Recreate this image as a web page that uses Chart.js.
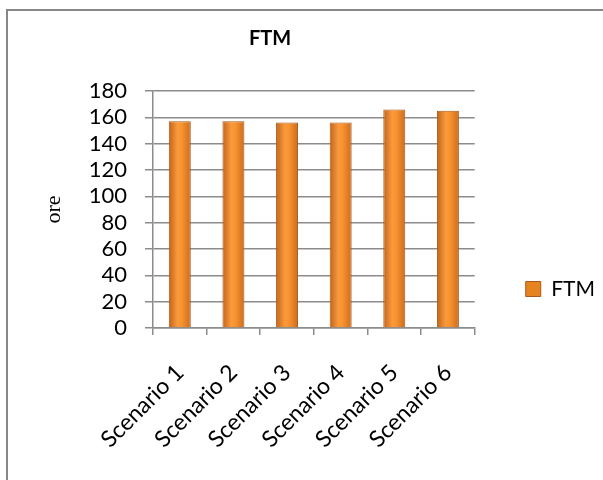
<!DOCTYPE html>
<html lang="it">
<head>
    <meta charset="UTF-8">
    <title>FTM</title>
    <script src="https://cdn.jsdelivr.net/npm/chart.js"></script>
    <style>
        html, body {
            margin: 0;
            padding: 0;
            width: 603px;
            height: 480px;
            overflow: hidden;
            background: #fff;
        }
        /* chart canvas is wider than the window so the title sits where Excel put it */
        #wrap {
            position: absolute;
            left: -65px;
            top: 0;
            width: 670px;
            height: 480px;
        }
        /* Excel chart frame: only top and left edges are visible */
        .frame {
            position: absolute;
            left: 6px;
            top: 9px;
            width: 700px;
            height: 600px;
            border-top: 2px solid #878787;
            border-left: 2px solid #878787;
            pointer-events: none;
        }
    </style>
</head>
<body>
    <div id="wrap"><canvas id="ftmChart"></canvas></div>
    <div class="frame"></div>
    <script>
        const categories = ['Scenario 1', 'Scenario 2', 'Scenario 3', 'Scenario 4', 'Scenario 5', 'Scenario 6'];
        const ftmValues = [157, 157, 156, 156, 166, 165];
        const seriesName = 'FTM';
        const yTicks = [0, 20, 40, 60, 80, 100, 120, 140, 160, 180];

        const barPct = 0.41;

        // horizontal shading like the Excel bevelled bar
        function barFill(ctx) {
            const chart = ctx.chart;
            const xs = chart.scales.x;
            if (!xs || !chart.chartArea) return '#F39130';
            const cx = xs.getPixelForTick(ctx.dataIndex);
            const half = chart.chartArea.width / categories.length * barPct / 2;
            const g = chart.ctx.createLinearGradient(cx - half, 0, cx + half, 0);
            g.addColorStop(0, '#C2631A');
            g.addColorStop(0.4, '#FA9A3C');
            g.addColorStop(0.6, '#F8922F');
            g.addColorStop(1, '#CB6C1E');
            return g;
        }

        new Chart(document.getElementById('ftmChart'), {
            type: 'bar',
            data: {
                labels: categories,
                datasets: [{
                    label: seriesName,
                    data: ftmValues,
                    backgroundColor: barFill,
                    borderColor: '#A9591A',
                    borderWidth: 1,
                    barPercentage: barPct,
                    categoryPercentage: 1
                }]
            },
            options: {
                responsive: true,
                maintainAspectRatio: false,
                animation: false,
                layout: { padding: 0 },
                plugins: {
                    title: {
                        display: true,
                        text: 'FTM',
                        color: '#000',
                        font: { family: 'Lato', size: 20, weight: 'bold' },
                        padding: { top: 27, bottom: 40 }
                    },
                    legend: {
                        position: 'right',
                        align: 'center',
                        title: { display: true, text: '', font: { size: 10 }, padding: { top: 86, bottom: 0 } },
                        labels: {
                            color: '#000',
                            font: { family: 'Lato', size: 21 },
                            boxWidth: 15,
                            boxHeight: 15,
                            padding: 51,
                            generateLabels(chart) {
                                const items = Chart.defaults.plugins.legend.labels.generateLabels(chart);
                                items.forEach(it => {
                                    it.fillStyle = '#E5831F';
                                    it.strokeStyle = '#A9591A';
                                    it.lineWidth = 1;
                                });
                                return items;
                            }
                        }
                    },
                    tooltip: { enabled: false }
                },
                scales: {
                    x: {
                        grid: {
                            offset: true,
                            drawOnChartArea: false,
                            color: '#8C8C8C',
                            lineWidth: 1.5,
                            tickLength: 7
                        },
                        border: { color: '#8C8C8C', width: 1.5 },
                        ticks: {
                            color: '#000',
                            font: { family: 'Lato', size: 23 },
                            minRotation: 45,
                            maxRotation: 45,
                            padding: 24
                        },
                        afterFit(scale) { scale.height = 152; }
                    },
                    y: {
                        min: 0,
                        max: 180,
                        afterBuildTicks(scale) { scale.ticks = yTicks.map(v => ({ value: v })); },
                        grid: {
                            color: '#8C8C8C',
                            lineWidth: 1.5,
                            tickLength: 8
                        },
                        border: { color: '#8C8C8C', width: 1.5 },
                        ticks: {
                            color: '#000',
                            font: { family: 'Lato', size: 22 },
                            padding: 18,
                            autoSkip: false
                        },
                        title: {
                            display: true,
                            text: 'ore',
                            color: '#000',
                            font: { family: 'Liberation Serif', size: 22 },
                            padding: { top: 106, bottom: 0 }
                        },
                        afterFit(scale) { scale.width = 218; }
                    }
                }
            }
        });
    </script>
</body>
</html>
